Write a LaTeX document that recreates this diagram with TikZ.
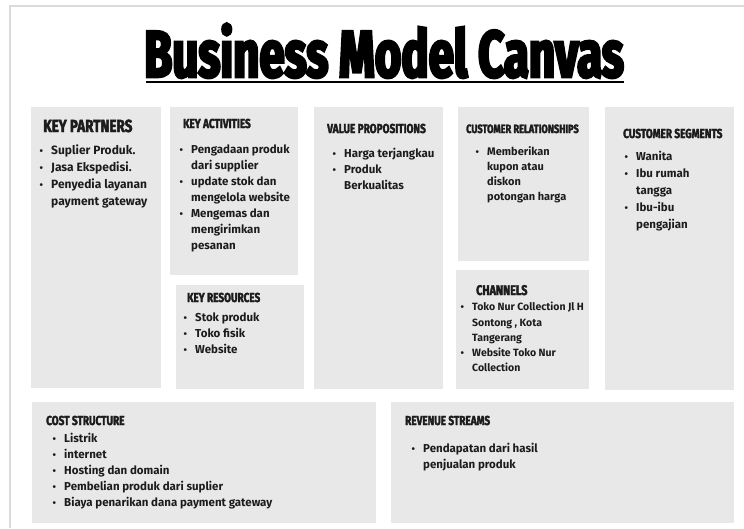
\documentclass[tikz,border=0pt]{standalone}
\usepackage{fontspec}
\setmainfont{Fira Sans}
\newfontfamily\headfont[FakeStretch=0.77,FakeBold=2.5]{Fira Sans}
\newfontfamily\titlefont[FakeStretch=0.69,FakeBold=4]{Fira Sans}
\usetikzlibrary{positioning}
\definecolor{cellgray}{HTML}{E8E8E8}
\definecolor{ink}{HTML}{1C1C1C}
\definecolor{framegray}{HTML}{DADADA}
\newcommand{\itm}{\makebox[12pt][l]{\hspace{0.5pt}{\fontsize{10}{10}\selectfont •}}}
\newcommand{\cnt}{\hspace*{12pt}}

\begin{document}
\begin{tikzpicture}[x=1pt,y=-1pt]
  \tikzstyle{cell}=[fill=cellgray]
  \tikzstyle{head}=[anchor=base west, inner sep=0, text=ink, font=\headfont\bfseries\fontsize{13}{13}\selectfont]
  \tikzstyle{list}=[anchor=north west, inner sep=0, align=left, text=ink, font=\bfseries\fontsize{11.5}{16}\selectfont]

  \useasboundingbox (0,0) rectangle (744,528);

  % Rahmen
  \draw[framegray, line width=1.2pt] (10,528) -- (10,6) -- (744,6);

  % Judul
  \node[anchor=base, inner sep=0, font=\titlefont\bfseries\fontsize{66}{66}\selectfont] (title) at (384,77) {Business Model Canvas};
  \draw[line width=2.2pt] (146,82) -- (624,82);

  % Kotak-kotak
  \fill[cell] (31,107) rectangle (161,388);
  \fill[cell] (170,107) rectangle (298,275);
  \fill[cell] (176,285) rectangle (304,389);
  \fill[cell] (314,107) rectangle (443,389);
  \fill[cell] (458,107) rectangle (589,261);
  \fill[cell] (456,270) rectangle (589,389);
  \fill[cell] (605,107) rectangle (734,390);
  \fill[cell] (32,402) rectangle (376,523);
  \fill[cell] (391,402) rectangle (734,523);

  % Key Partners
  \node[head, font=\headfont\bfseries\fontsize{17.5}{17.5}\selectfont] (kpHead) at (43,132) {KEY PARTNERS};
  \node[list, font=\bfseries\fontsize{12}{17}\selectfont] (kpList) at (39,145)
    {\itm Suplier Produk.\\ \itm Jasa Ekspedisi.\\ \itm Penyedia layanan\\ \cnt payment gateway};

  % Key Activities
  \node[head] (kaHead) at (183,128) {KEY ACTIVITIES};
  \node[list] (kaList) at (179,145)
    {\itm Pengadaan produk\\ \cnt dari supplier\\ \itm update stok dan\\ \cnt mengelola website\\
     \itm Mengemas dan\\ \cnt mengirimkan\\ \cnt pesanan};

  % Key Resources
  \node[head] (krHead) at (187,302) {KEY RESOURCES};
  \node[list] (krList) at (183,313)
    {\itm Stok produk\\ \itm Toko fisik\\ \itm Website};

  % Value Propositions
  \node[head] (vpHead) at (327,133) {VALUE PROPOSITIONS};
  \node[list] (vpList) at (332,148)
    {\itm Harga terjangkau\\ \itm Produk\\ \cnt Berkualitas};

  % Customer Relationships
  \node[head, font=\headfont\bfseries\fontsize{12}{12}\selectfont] (crHead) at (466,133) {CUSTOMER RELATIONSHIPS};
  \node[list, font=\bfseries\fontsize{11}{15}\selectfont] (crList) at (475,146)
    {\itm Memberikan\\ \cnt kupon atau\\ \cnt diskon\\ \cnt potongan harga};

  % Channels
  \node[head, font=\headfont\bfseries\fontsize{14}{14}\selectfont] (chHead) at (476,295) {CHANNELS};
  \node[list, font=\bfseries\fontsize{10.5}{15.3}\selectfont] (chList) at (460,302)
    {\itm Toko Nur Collection Jl H\\ \cnt Sontong , Kota\\ \cnt Tangerang\\ \itm Website Toko Nur\\ \cnt Collection};

  % Customer Segments
  \node[head] (csHead) at (623,138) {CUSTOMER SEGMENTS};
  \node[list, font=\bfseries\fontsize{11.5}{17}\selectfont] (csList) at (624,151)
    {\itm Wanita\\ \itm Ibu rumah\\ \cnt tangga\\ \itm Ibu-ibu\\ \cnt pengajian};

  % Cost Structure
  \node[head] (cstHead) at (46,425) {COST STRUCTURE};
  \node[list] (cstList) at (52,433)
    {\itm Listrik\\ \itm internet\\ \itm Hosting dan domain\\ \itm Pembelian produk dari suplier\\ \itm Biaya penarikan dana payment gateway};

  % Revenue Streams
  \node[head] (rsHead) at (405,425) {REVENUE STREAMS};
  \node[list] (rsList) at (411,443)
    {\itm Pendapatan dari hasil\\ \cnt penjualan produk};
\end{tikzpicture}
\end{document}
